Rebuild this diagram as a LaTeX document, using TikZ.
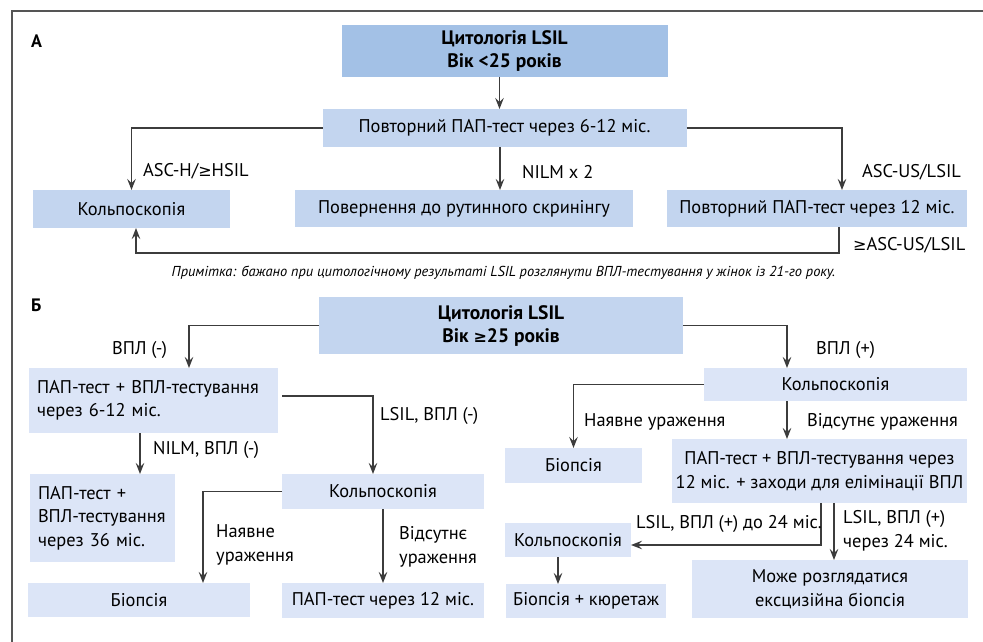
\documentclass[tikz,border=0pt]{standalone}
\usepackage{fontspec}
\setmainfont{PT Sans}
\newfontfamily\symfont{DejaVu Sans}
\usetikzlibrary{arrows.meta}
\definecolor{hdrdark}{RGB}{163,193,230}
\definecolor{boxmid}{RGB}{195,213,239}
\definecolor{boxlight}{RGB}{220,229,247}
\definecolor{linegray}{RGB}{60,60,60}
\definecolor{framegray}{RGB}{85,85,85}
\newcommand{\gq}{{\symfont\fontsize{16}{16}\selectfont ≥}}
\newcommand{\fs}{\fontsize{18.4}{23.5}\selectfont}
\tikzset{
  box/.style={fill=#1, inner sep=0pt, outer sep=0pt, align=center, font=\fs},
  conn/.style={draw=linegray, line width=1.2pt, -{Stealth[length=11pt,width=8.5pt,inset=4pt]}},
  lbl/.style={anchor=west, inner sep=0pt, font=\fs, align=left},
  sect/.style={anchor=west, inner sep=0pt, font=\fontsize{18}{18}\selectfont\bfseries}
}
\begin{document}
\begin{tikzpicture}[x=1pt,y=-1pt]
\useasboundingbox (0,0) rectangle (983,642);
% outer frame
\draw[framegray, line width=2pt] (12,642) -- (12,11) -- (983,11);

% ---------- part A ----------
\node[sect] (secA) at (31,41) {А};
\node[box=hdrdark, minimum width=326pt, minimum height=52pt, font=\fontsize{19.5}{23}\selectfont\bfseries] (A1) at (504.5,51) {Цитологія LSIL\\Вік <25 років};
\node[box=boxmid, minimum width=364pt, minimum height=38pt] (A2) at (504.5,128) {Повторний ПАП-тест через 6-12 міс.};
\node[box=boxmid, minimum width=197pt, minimum height=38pt] (A3) at (131.5,209) {Кольпоскопія};
\node[box=boxmid, minimum width=338pt, minimum height=37pt] (A4) at (464,208.5) {Повернення до рутинного скринінгу};
\node[box=boxmid, minimum width=300pt, minimum height=37pt] (A5) at (817,208.5) {Повторний ПАП-тест через 12 міс.};

\coordinate (a1) at ([xshift=-5pt]A1.south);
\draw[conn] (a1) -- (a1 |- A2.north);
\draw[conn] (A2.west) -| (A3.north);
\coordinate (a2) at ([xshift=-4.5pt]A2.south);
\draw[conn] (a2) -- (a2 |- A4.north);
\coordinate (a3) at ([xshift=25pt]A5.north);
\draw[conn] (A2.east) -| (a3);
\coordinate (a4) at ([xshift=22pt]A5.south);
\coordinate (a5) at ([xshift=4.5pt]A3.south);
\draw[conn] (a4) -- ++(0,26) -| (a5);

\node[lbl] (lA1) at (143,171) {ASC-H/\gq HSIL};
\node[lbl] (lA2) at (522,172) {NILM x 2};
\node[lbl] (lA3) at (862,172) {ASC-US/LSIL};
\node[lbl] (lA4) at (853,245) {\gq ASC-US/LSIL};
\node[inner sep=0pt, font=\fontsize{14.4}{14.4}\selectfont\itshape] (note) at (503.5,273) {Примітка: бажано при цитологічному результаті LSIL розглянути ВПЛ-тестування у жінок із 21-го року.};

% ---------- part B ----------
\node[sect] (secB) at (31,305) {Б};
\node[box=boxmid, minimum width=364pt, minimum height=57pt, font=\fontsize{19.5}{23}\selectfont\bfseries] (B1) at (501,325.5) {Цитологія LSIL\\Вік \gq 25 років};
\node[box=boxlight, text width=233pt, inner xsep=8pt, align=left, minimum height=65pt] (B2) at (153.5,400.5) {ПАП-тест + ВПЛ-тестування\\через 6-12 міс.};
\node[box=boxlight, text width=129pt, inner xsep=8pt, align=left, minimum height=88pt] (B3) at (102.5,518) {ПАП-тест +\\ВПЛ-тестування\\через 36 міс.};
\node[box=boxlight, minimum width=202pt, minimum height=35pt] (B4) at (383,491.5) {Кольпоскопія};
\node[box=boxlight, minimum width=222pt, minimum height=34pt] (B5) at (139,600) {Біопсія};
\node[box=boxlight, minimum width=202pt, minimum height=35pt] (B7) at (383,600.5) {ПАП-тест через 12 міс.};
\node[box=boxlight, minimum width=263pt, minimum height=33pt] (B6) at (835.5,384.5) {Кольпоскопія};
\node[box=boxlight, minimum width=137pt, minimum height=35pt] (B8) at (573.5,465.5) {Біопсія};
\node[box=boxlight, minimum width=295pt, minimum height=64pt] (B9) at (819.5,471) {ПАП-тест + ВПЛ-тестування через\\12 міс. + заходи для елімінації ВПЛ};
\node[box=boxlight, minimum width=126pt, minimum height=34pt] (B10) at (568,540) {Кольпоскопія};
\node[box=boxlight, minimum width=160pt, minimum height=34pt] (B11) at (586,601) {Біопсія + кюретаж};
\node[box=boxlight, minimum width=276pt, minimum height=58pt] (B12) at (830,589) {Може розглядатися\\ексцизійна біопсія};

\coordinate (b1) at ([xshift=35.5pt]B2.north);
\draw[conn] (B1.west) -| (b1);
\coordinate (b2) at ([xshift=-48.5pt]B6.north);
\draw[conn] (B1.east) -| (b2);
\coordinate (b3) at ([xshift=-13.5pt]B2.south);
\draw[conn] (b3) -- (b3 |- B3.north);
\coordinate (b4) at ([xshift=4pt,yshift=4.5pt]B2.east);
\coordinate (b5) at ([xshift=-10pt]B4.north);
\draw[conn] (b4) -| (b5);
\coordinate (b6) at ([xshift=64pt]B5.north);
\draw[conn] (B4.west) -| (b6);
\draw[conn] (B4.south) -- (B4.south |- B7.north);
\draw[conn] (B6.west) -| (B8.north);
\coordinate (b7) at ([xshift=-32.5pt]B9.north);
\draw[conn] (b7 |- B6.south) -- (b7);
\coordinate (b8) at ([xshift=1.5pt]B9.south);
\coordinate (b9) at ([yshift=-5pt]B10.east);
\draw[conn] (b8) |- (b9);
\coordinate (b10) at ([xshift=14.5pt]B9.south);
\draw[conn] (b10) -- (b10 |- B12.north);
\coordinate (b11) at ([xshift=-10pt]B10.south);
\draw[conn] (b11) -- (b11 |- B11.north);

\node[lbl] (lB1) at (112,350) {ВПЛ (-)};
\node[lbl] (lB2) at (816,350) {ВПЛ (+)};
\node[lbl] (lB3) at (153,450) {NILM, ВПЛ (-)};
\node[lbl] (lB4) at (380,416) {LSIL, ВПЛ (-)};
\node[lbl] (lB5) at (216,545) {Наявне\\ураження};
\node[lbl] (lB6) at (399,547) {Відсутнє\\ураження};
\node[lbl] (lB7) at (584,422) {Наявне ураження};
\node[lbl] (lB8) at (807,422) {Відсутнє ураження};
\node[lbl] (lB9) at (636,524) {LSIL, ВПЛ (+) до 24 міс.};
\node[lbl] (lB10) at (843,531) {LSIL, ВПЛ (+)\\через 24 міс.};
\end{tikzpicture}
\end{document}
